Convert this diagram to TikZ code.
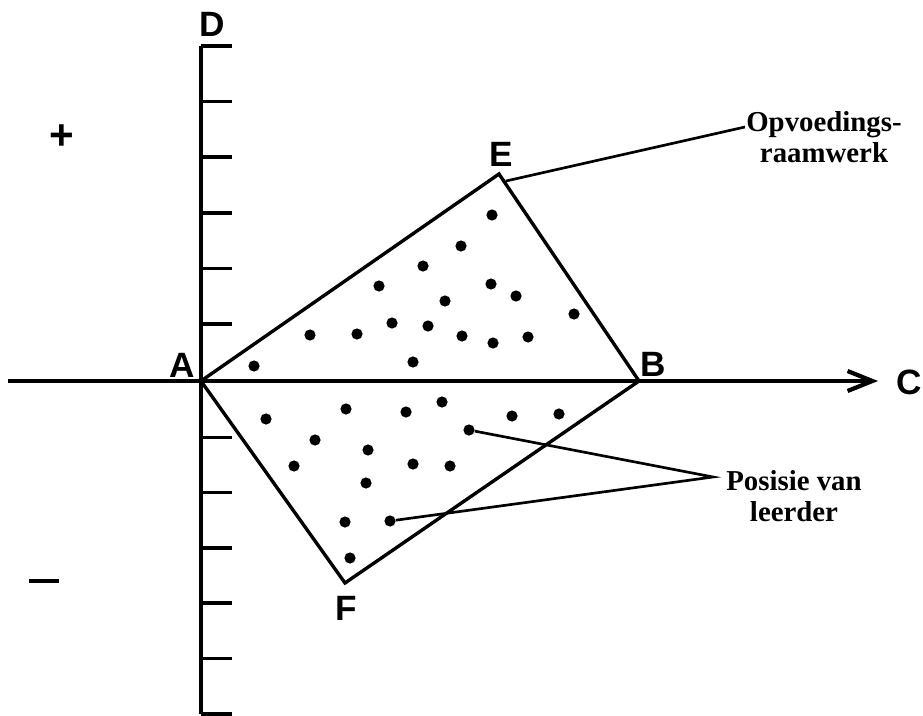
\documentclass[tikz,border=0pt]{standalone}
\usepackage{fontspec}
\setmainfont{Liberation Serif}
\newfontfamily\axisfont{Liberation Sans}
\usetikzlibrary{positioning, arrows.meta, calc}

\begin{document}
\begin{tikzpicture}[
        x=0.025cm, y=-0.025cm,
        axis/.style={line width=2.5pt},
        frame/.style={line width=2.4pt, line join=miter},
        lead/.style={line width=1.9pt},
        pt/.style={circle, fill=black, inner sep=0pt, minimum size=0.28cm},
        letter/.style={font=\axisfont\bfseries\fontsize{25}{27}\selectfont, inner sep=0pt},
        caption/.style={font=\bfseries\fontsize{20.5}{22}\selectfont, align=center, inner sep=0pt},
        sign/.style={font=\axisfont\bfseries\fontsize{30}{30}\selectfont, inner sep=0pt},
    ]
    \useasboundingbox (0,0) rectangle (923,716);

    % Axes
    \coordinate (A) at (201,381);
    \coordinate (top) at (201,46);
    \coordinate (bot) at (201,714);
    \coordinate (left) at (8,381);
    \coordinate (tip) at (878,381);
    \draw[axis] (top) -- (bot);
    \draw[axis, -{Straight Barb[length=0.62cm, width=0.5cm, line width=3pt]}] (left) -- (tip);
    \foreach \ty in {46,101.6,157.2,212.8,268.4,324,437.3,492.6,547.9,603.2,658.5,714}
        \draw[axis] (201,\ty) -- (232,\ty);

    % Framework quadrilateral
    \coordinate (E) at (499,174);
    \coordinate (B) at (639,381);
    \coordinate (F) at (345,583);
    \draw[frame] (A) -- (E) -- (B) -- (F) -- cycle;

    % Learners
    \foreach \px/\py in {492/215, 461/246, 423/266, 379/286, 491/284, 516/296,
        445/301, 574/314, 392/323, 428/326, 310/335, 357/334, 462/336, 493/343,
        528/337, 254/366, 413/362,
        266/419, 346/409, 406/412, 442/402, 512/416, 559/414, 315/440, 368/450,
        294/466, 413/464, 450/466, 366/483, 345/522, 350/558}
        \node[pt] at (\px,\py) {};
    \node[pt] (p1) at (469,430) {};
    \node[pt] (p2) at (390,521) {};

    % Letters
    \node[letter] (lA) at (182,365) {A};
    \node[letter] (lB) at (653,364) {B};
    \node[letter] (lC) at (909,382) {C};
    \node[letter] (lD) at (212,24) {D};
    \node[letter] (lE) at (501,154) {E};
    \node[letter] (lF) at (346,608) {F};

    % Signs
    \node[sign] (plus) at (62,137) {+};
    \draw[line width=2.6pt] (29,581) -- (59,581);

    % Captions and leaders
    \node[caption] (frm) at (824,137) {Opvoedings-\\raamwerk};
    \node[caption] (pos) at (794,496) {Posisie van\\leerder};
    \coordinate (frmend) at (745,127);
    \coordinate (posend) at (713,477);
    \draw[lead] (506,181) -- (frmend);
    \draw[lead] (p1) -- (posend) -- (p2);
\end{tikzpicture}
\end{document}
